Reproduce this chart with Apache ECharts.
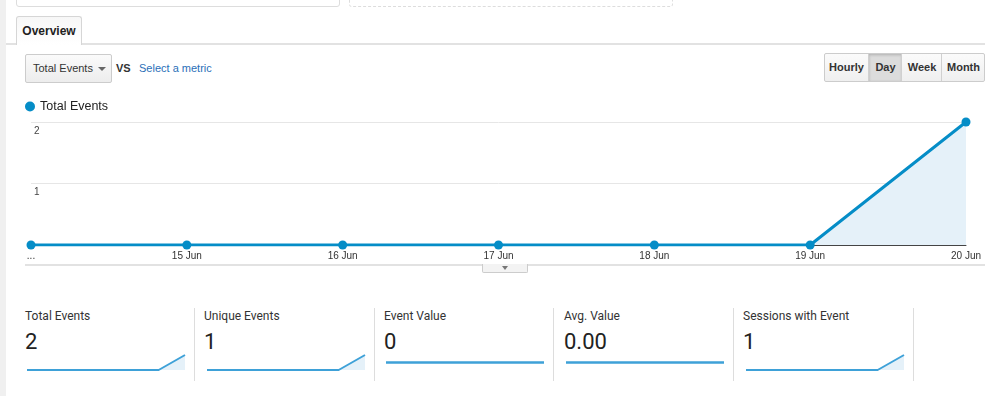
<!DOCTYPE html>
<html><head><meta charset="utf-8">
<script src="https://cdn.jsdelivr.net/npm/echarts@6/dist/echarts.min.js"></script>
<style>
html,body{margin:0;padding:0;width:985px;height:396px;overflow:hidden;background:#fff;font-family:Arial,"Liberation Sans",sans-serif;}
.abs{position:absolute;box-sizing:border-box;}
#chart{position:absolute;left:0;top:0;width:985px;height:396px;z-index:5;}
.btn{position:absolute;top:0;height:100%;text-align:center;font-weight:bold;font-size:11px;color:#333;line-height:27px;border-left:1px solid #d0d0d0;}
.lbl{position:absolute;top:309px;font-family:Roboto,sans-serif;font-size:12px;color:#333;}
.val{position:absolute;top:329px;font-family:Roboto,sans-serif;font-size:22px;color:#222;}
.sep{position:absolute;top:308px;width:1px;height:73px;background:#ddd;}
</style></head><body>
<div class="abs" style="left:0;top:0;width:6px;height:396px;background:#f0f0f0"></div>
<div class="abs" style="left:16px;top:-6px;width:324px;height:13px;border:1px solid #ddd;border-radius:3px;"></div>
<div class="abs" style="left:349px;top:-6px;width:324px;height:13px;border:1px dashed #ddd;border-radius:3px;"></div>
<div class="abs" style="left:6px;top:43px;width:979px;height:2px;background:#e2e2e2"></div>
<div class="abs" style="left:16px;top:16px;width:66px;height:29px;border:1px solid #d6d6d6;border-bottom:none;border-radius:3px 3px 0 0;background:linear-gradient(#f7f7f7,#fff);font-weight:bold;font-size:12px;color:#222;line-height:28px;text-align:center;z-index:2;">Overview</div>
<div class="abs" style="left:25px;top:54px;width:87px;height:29px;border:1px solid #ccc;border-radius:2px;background:linear-gradient(#fafafa,#ededed);font-size:11px;color:#333;line-height:27px;">
 <span style="position:absolute;left:7px;">Total Events</span>
 <span style="position:absolute;left:72px;top:12px;width:0;height:0;border-left:4px solid transparent;border-right:4px solid transparent;border-top:4px solid #666"></span>
</div>
<div class="abs" style="left:116px;top:62px;font-size:11px;font-weight:bold;color:#333;">VS</div>
<div class="abs" style="left:139px;top:62px;font-size:11px;color:#2a6fb8;">Select a metric</div>
<div class="abs" style="left:824px;top:53px;width:161px;height:29px;border:1px solid #ccc;border-radius:2px;background:linear-gradient(#fbfbfb,#efefef);">
 <div class="btn" style="left:0;width:43px;border-left:none;">Hourly</div>
 <div class="btn" style="left:43px;width:33px;background:#dcdcdc;box-shadow:inset 0 1px 3px rgba(0,0,0,0.2);">Day</div>
 <div class="btn" style="left:76px;width:40px;">Week</div>
 <div class="btn" style="left:116px;width:43px;">Month</div>
</div>
<div class="abs" style="left:25px;top:264px;width:960px;height:2px;background:#e2e2e2"></div>
<div class="abs" style="left:482px;top:264px;width:46px;height:9px;border:1px solid #ccc;border-top:none;border-radius:0 0 2px 2px;background:#f3f3f3;">
 <span style="position:absolute;left:19px;top:2px;width:0;height:0;border-left:3.5px solid transparent;border-right:3.5px solid transparent;border-top:4px solid #777"></span>
</div>
<div id="cards"></div>
<div id="chart"></div>
<script>
// ---- data ----
var categories = ['14 Jun', '15 Jun', '16 Jun', '17 Jun', '18 Jun', '19 Jun', '20 Jun'];
var tickLabels = ['...', '15 Jun', '16 Jun', '17 Jun', '18 Jun', '19 Jun', '20 Jun'];
var totalEvents = [0, 0, 0, 0, 0, 0, 2];
var uniqueEvents = [0, 0, 0, 0, 0, 0, 1];
var eventValue = [0, 0, 0, 0, 0, 0, 0];
var avgValue = [0, 0, 0, 0, 0, 0, 0];
var sessionsWithEvent = [0, 0, 0, 0, 0, 0, 1];
var cardLabels = ['Total Events', 'Unique Events', 'Event Value', 'Avg. Value', 'Sessions with Event'];
var cardValues = ['2', '1', '0', '0.00', '1'];

// ---- layout ----
var cardX = [25, 204, 384, 564, 743];
var sepX = [194, 374, 553, 733, 913];
var sparkX = [27, 207, 386, 566, 746];
var sparkW = 158;
var sparkData = [totalEvents, uniqueEvents, eventValue, avgValue, sessionsWithEvent];

var cards = document.getElementById('cards');
var html = '';
for (var i = 0; i < cardLabels.length; i++) {
  html += '<div class="lbl" style="left:' + cardX[i] + 'px">' + cardLabels[i] + '</div>';
  html += '<div class="val" style="left:' + cardX[i] + 'px">' + cardValues[i] + '</div>';
  html += '<div class="sep" style="left:' + sepX[i] + 'px"></div>';
}
cards.innerHTML = html;

var chart = echarts.init(document.getElementById('chart'), null, {renderer: 'canvas'});
var grids = [{left: 31, right: 19, top: 122, height: 123}];
var xAxes = [{
  type: 'category', gridIndex: 0, data: tickLabels, boundaryGap: false,
  axisLine: {lineStyle: {color: '#444', width: 1}},
  axisTick: {show: false},
  axisLabel: {interval: 0, fontSize: 10, color: '#333', margin: 6, fontFamily: 'Arial'},
  splitLine: {show: false}
}];
var yAxes = [{
  type: 'value', gridIndex: 0, min: 0, max: 2, interval: 1,
  axisLine: {show: false}, axisTick: {show: false},
  splitLine: {lineStyle: {color: '#e6e6e6', width: 1}},
  axisLabel: {inside: true, showMinLabel: false, verticalAlign: 'top', padding: [4, 0, 0, 0], margin: 3, fontSize: 10, color: '#444', fontFamily: 'Arial'}
}];
var series = [{
  name: 'Total Events', type: 'line', xAxisIndex: 0, yAxisIndex: 0,
  data: totalEvents, symbol: 'circle', symbolSize: 9, showAllSymbol: true,
  lineStyle: {color: '#058dc7', width: 3},
  itemStyle: {color: '#058dc7'},
  areaStyle: {color: '#e5f1f9', opacity: 1},
  z: 5
}];
for (var k = 0; k < sparkData.length; k++) {
  var d = sparkData[k];
  var mx = Math.max.apply(null, d);
  grids.push({left: sparkX[k], width: sparkW, top: 355, height: 15});
  xAxes.push({type: 'category', gridIndex: k + 1, data: categories, boundaryGap: false, show: false});
  yAxes.push({type: 'value', gridIndex: k + 1, min: mx > 0 ? 0 : -1, max: mx > 0 ? mx : 1, show: false, splitLine: {show: false}});
  series.push({
    type: 'line', xAxisIndex: k + 1, yAxisIndex: k + 1, data: d, symbol: 'none',
    lineStyle: {color: '#3ea1d8', width: mx > 0 ? 2 : 2.5},
    areaStyle: {color: '#e5f1f9', opacity: 1}
  });
}
chart.setOption({
  animation: false,
  legend: {
    data: ['Total Events'], left: 25, top: 100, padding: 0, icon: 'circle',
    itemWidth: 10, itemHeight: 10,
    textStyle: {fontSize: 12.5, color: '#222', fontFamily: 'Arial'}
  },
  grid: grids, xAxis: xAxes, yAxis: yAxes, series: series
});
</script>
</body></html>
